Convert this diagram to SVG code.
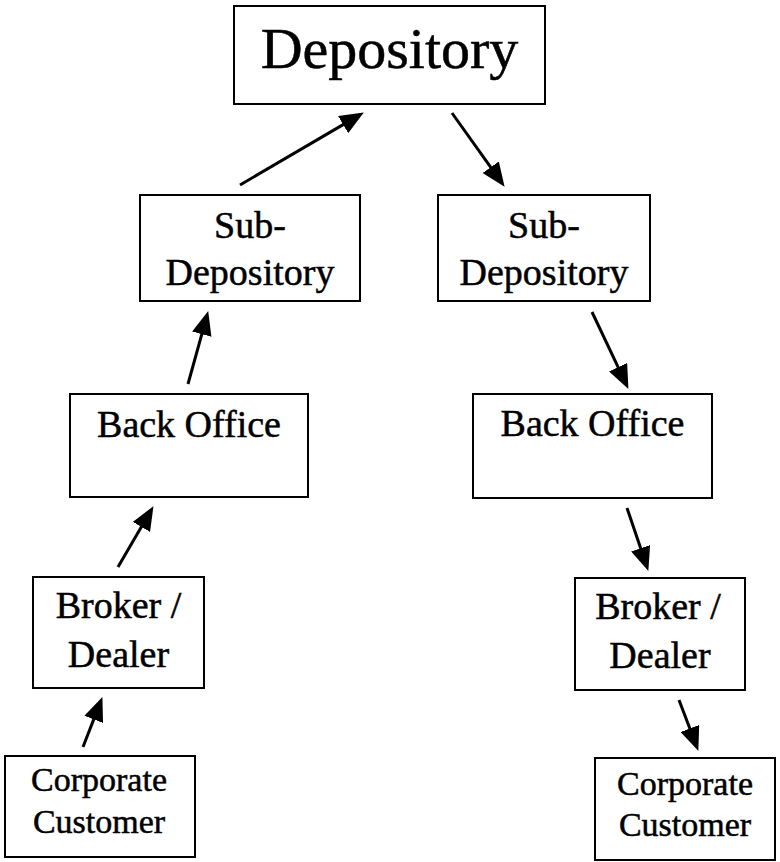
<svg xmlns="http://www.w3.org/2000/svg" width="780" height="862" viewBox="0 0 780 862">
<style>
.box{fill:#fff;stroke:#000;stroke-width:2}
.t{font-family:"Liberation Serif","Times New Roman",serif;fill:#000;stroke:#000;stroke-width:0.5;text-anchor:middle}
.big{font-size:58px}
.mid{font-size:38px}
.sm{font-size:34px}
.conn line{stroke:#000;stroke-width:3;marker-end:url(#ah)}
</style>
<defs>
<marker id="ah" viewBox="0 0 24 20" refX="3" refY="10" markerWidth="24" markerHeight="20" markerUnits="userSpaceOnUse" orient="auto">
<path d="M0,0 L24,10 L0,20 z" fill="#000"/>
</marker>
</defs>
<rect width="780" height="862" fill="#fff"/>
<g id="depository">
<rect class="box" x="234" y="6" width="311" height="98"/>
<text class="t big" x="389.5" y="68">Depository</text>
</g>
<g id="subdep-left">
<rect class="box" x="140" y="195" width="220" height="106"/>
<text class="t mid" x="250" y="238">Sub-</text>
<text class="t mid" x="250" y="285">Depository</text>
</g>
<g id="subdep-right">
<rect class="box" x="438" y="195" width="212" height="106"/>
<text class="t mid" x="544" y="238">Sub-</text>
<text class="t mid" x="544" y="285">Depository</text>
</g>
<g id="backoffice-left">
<rect class="box" x="70" y="394" width="238" height="103"/>
<text class="t mid" x="189" y="437">Back Office</text>
</g>
<g id="backoffice-right">
<rect class="box" x="473" y="394" width="239" height="104"/>
<text class="t mid" x="592.5" y="436">Back Office</text>
</g>
<g id="broker-left">
<rect class="box" x="33" y="577" width="171" height="111"/>
<text class="t mid" x="118.5" y="618">Broker /</text>
<text class="t mid" x="118.5" y="667">Dealer</text>
</g>
<g id="broker-right">
<rect class="box" x="575" y="578" width="170" height="112"/>
<text class="t mid" x="658" y="619">Broker /</text>
<text class="t mid" x="660" y="668">Dealer</text>
</g>
<g id="customer-left">
<rect class="box" x="5" y="756" width="190" height="101"/>
<text class="t sm" x="99" y="791">Corporate</text>
<text class="t sm" x="99" y="833">Customer</text>
</g>
<g id="customer-right">
<rect class="box" x="595" y="758" width="180" height="102"/>
<text class="t sm" x="685" y="795">Corporate</text>
<text class="t sm" x="685" y="836">Customer</text>
</g>
<g id="connectors" class="conn">
<line x1="240" y1="185" x2="345.7" y2="123.1"/>
<line x1="452" y1="113" x2="492.4" y2="169.7"/>
<line x1="188" y1="384" x2="202.6" y2="331.3"/>
<line x1="118" y1="567" x2="142.9" y2="524.3"/>
<line x1="83" y1="747" x2="94.8" y2="716.6"/>
<line x1="592" y1="312" x2="619.4" y2="369.9"/>
<line x1="627" y1="508" x2="641.6" y2="551.1"/>
<line x1="679" y1="700" x2="690.9" y2="731.3"/>
</g>
</svg>
